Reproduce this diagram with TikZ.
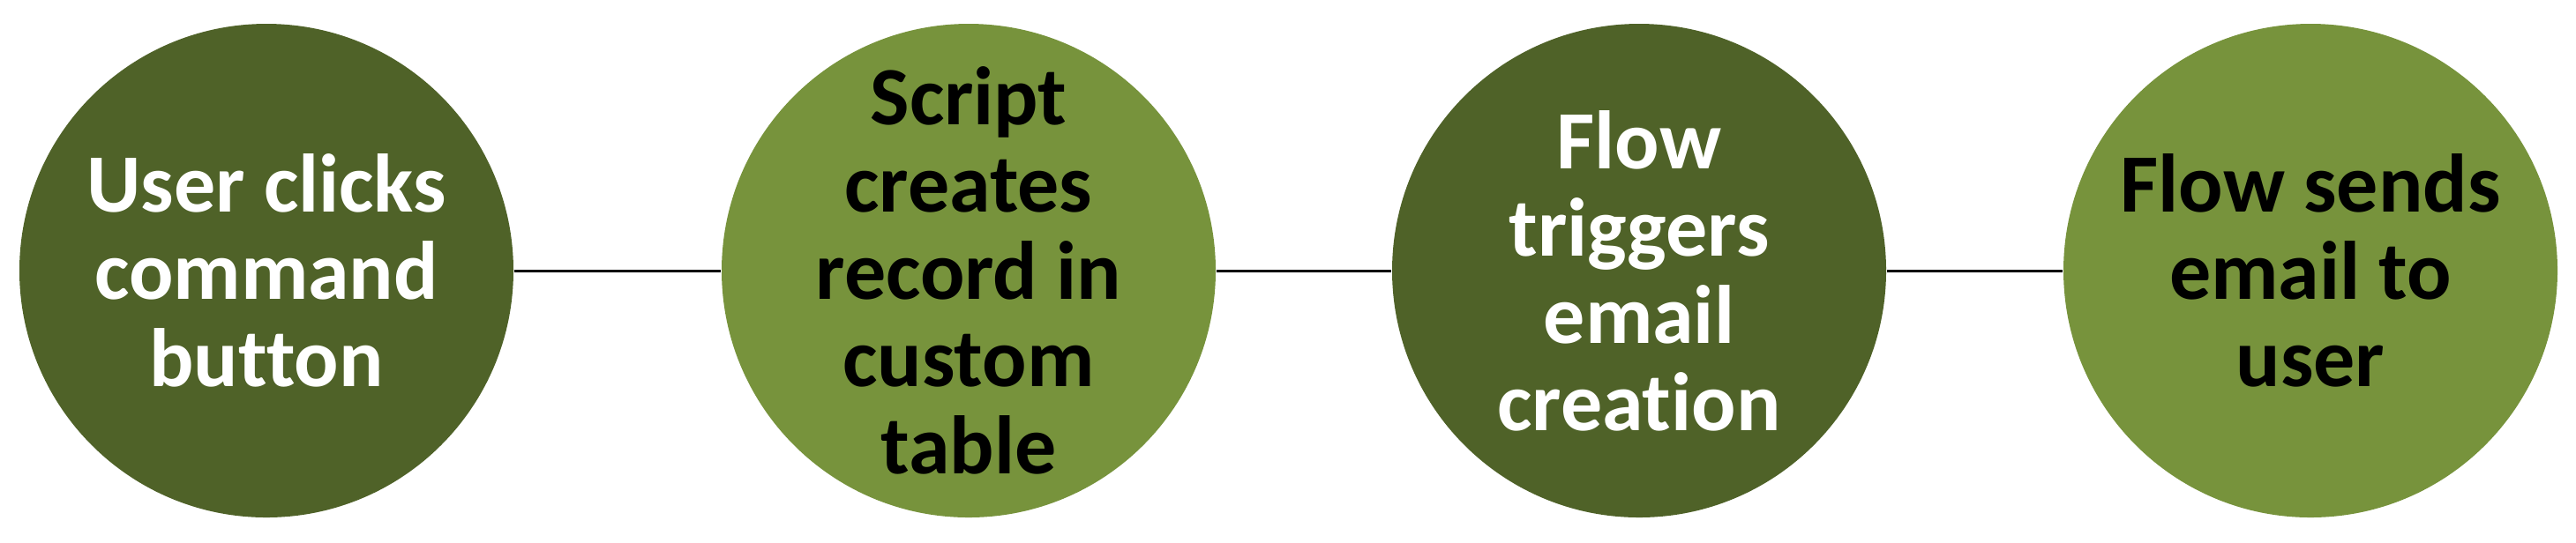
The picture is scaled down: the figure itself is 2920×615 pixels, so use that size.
\documentclass[tikz,border=0pt]{standalone}
\usepackage{fontspec}
\setmainfont{Carlito}[Ligatures=NoCommon]
\definecolor{darkolive}{HTML}{4F6228}
\definecolor{lightolive}{HTML}{77933C}
\tikzset{
  stepdark/.style={circle,fill=darkolive,minimum size=140pt,inner sep=-10pt,
    align=center,text=white,font=\fontsize{23.5}{24.75}\selectfont\bfseries},
  steplight/.style={stepdark,fill=lightolive,text=black},
}
\begin{document}
\begin{tikzpicture}[x=0.25pt,y=-0.25pt]
\useasboundingbox (0,0) rectangle (2920,615);

%% four steps
    \node[stepdark]  (click)  at (302,307)  {User clicks\\command\\button};
    \node[steplight] (script) at (1098,307) {Script\\creates\\record in\\custom\\table};
    \node[stepdark]  (flow)   at (1858,307) {Flow\\triggers\\email\\creation};
    \node[steplight] (send)   at (2619,307) {Flow sends\\email to\\user};

%% connectors
    \draw[line width=0.75pt] (click) to (script);
    \draw[line width=0.75pt] (script) to (flow);
    \draw[line width=0.75pt] (flow) to (send);

\end{tikzpicture}
\end{document}
